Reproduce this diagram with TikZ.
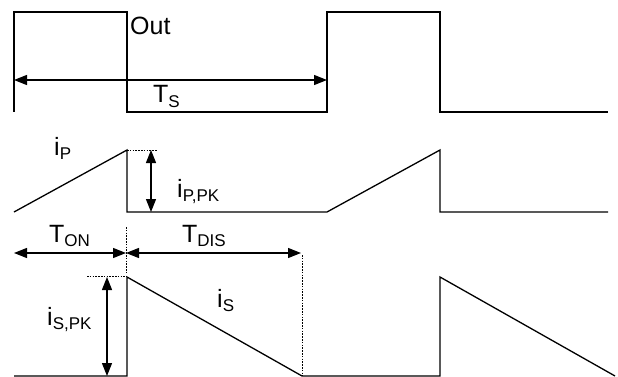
\documentclass[tikz,border=0pt]{standalone}
\usepackage{fontspec}
\setmainfont{Liberation Sans}
\usetikzlibrary{arrows.meta}
\newcommand{\subt}[1]{{\fontsize{17}{17}\selectfont\raisebox{-4.5pt}{#1}}}
\tikzset{
  wave/.style={line width=1.3pt, line join=miter},
  dim/.style={line width=1.2pt, {Triangle[length=13pt,width=10pt]}-{Triangle[length=13pt,width=10pt]}},
  guide/.style={line width=0.9pt, dash pattern=on 1.6pt off 1.2pt},
  lab/.style={inner sep=0pt, anchor=base west, font=\fontsize{25}{25}\selectfont}
}
\begin{document}
\begin{tikzpicture}[x=1pt,y=-1pt]
\useasboundingbox (0,0) rectangle (618,377);
% Out waveform
\draw[wave] (14,112)--(14,12)--(127,12)--(127,112)--(327,112)--(327,12)--(440,12)--(440,112)--(608,112);
\coordinate (tsl) at (14,80);
\coordinate (tsr) at (327,80);
\draw[dim] (tsl)--(tsr);
\node[lab] (out) at (130,35) {Out};
\node[lab] (ts) at (153,103) {T\subt{S}};
% i_P waveform
\draw[wave] (14,212)--(127,150)--(127,212)--(327,212)--(440,150)--(440,212)--(608,212);
\coordinate (ppk) at (127,150);
\coordinate (ppkd) at (157,150);
\draw[guide] (ppk)--(ppkd);
\coordinate (pat) at (151,150);
\coordinate (pab) at (151,212);
\draw[dim] (pat)--(pab);
\node[lab] (ip) at (54,155) {i\subt{P}};
\node[lab] (ippk) at (177,197) {i\subt{P,PK}};
% timing
\coordinate (tonl) at (14,253);
\coordinate (mid) at (126,253);
\coordinate (tdisr) at (301,253);
\draw[dim] (tonl)--(mid);
\draw[dim] (mid)--(tdisr);
\coordinate (gt) at (126,227);
\coordinate (gb) at (126,273);
\draw[guide] (gt)--(gb);
\node[lab] (ton) at (49,242) {T\subt{ON}};
\node[lab] (tdis) at (182,242) {T\subt{DIS}};
% i_S waveform
\draw[wave] (14,376)--(127,376)--(127,277)--(302,376)--(440,376)--(440,277)--(615,376);
\coordinate (spk) at (127,276);
\coordinate (spkd) at (87,276);
\draw[guide] (spkd)--(spk);
\coordinate (sat) at (107,277);
\coordinate (sab) at (107,376);
\draw[dim] (sat)--(sab);
\coordinate (dt) at (302,255);
\coordinate (db) at (302,376);
\draw[guide] (dt)--(db);
\node[lab] (ispk) at (47,325) {i\subt{S,PK}};
\node[lab] (is) at (217,307) {i\subt{S}};
\end{tikzpicture}
\end{document}
